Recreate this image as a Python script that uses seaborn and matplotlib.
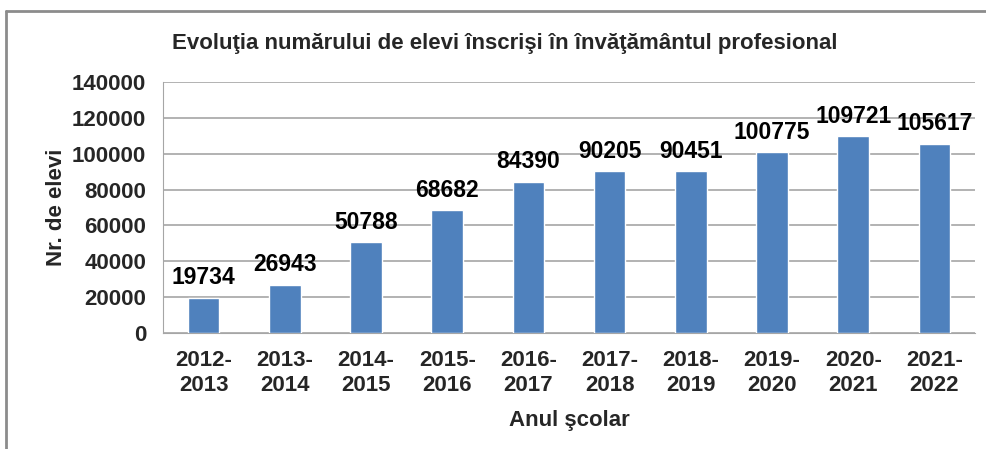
import matplotlib
matplotlib.use("Agg")
import matplotlib.pyplot as plt
import seaborn as sns
import pandas as pd
from matplotlib.lines import Line2D

# Data
years = ["2012-\n2013", "2013-\n2014", "2014-\n2015", "2015-\n2016", "2016-\n2017",
         "2017-\n2018", "2018-\n2019", "2019-\n2020", "2020-\n2021", "2021-\n2022"]
students = [19734, 26943, 50788, 68682, 84390, 90205, 90451, 100775, 109721, 105617]
yticks = [0, 20000, 40000, 60000, 80000, 100000, 120000, 140000]

df = pd.DataFrame({"An": years, "Elevi": students})

sns.set_style("white")
plt.rcParams["font.family"] = ["Liberation Sans", "DejaVu Sans"]
plt.rcParams["font.weight"] = "bold"

fig = plt.figure(figsize=(9.86, 4.49), dpi=100)
ax = fig.add_axes([163 / 986, 1 - 333 / 449, (975 - 163) / 986, (333 - 82) / 449])

sns.barplot(x="An", y="Elevi", data=df, color="#4F81BD", width=0.39,
            saturation=1, ax=ax, zorder=3)

for i, v in enumerate(students):
    ax.annotate(str(v), (i, v), xytext=(0, 6), textcoords="offset points",
                ha="center", va="bottom", fontsize=16.5, fontweight="bold",
                color="black", zorder=4)

ax.set_ylim(0, 140000)
ax.set_yticks(yticks)
ax.set_yticklabels([str(t) for t in yticks], fontsize=16, fontweight="bold")
ax.set_xticks(range(len(years)))
ax.set_xticklabels(years, fontsize=16, fontweight="bold", linespacing=1.3)
ax.set_xlim(-0.5, len(years) - 0.5)
ax.yaxis.grid(True, color="#A6A6A6", linewidth=1.2, zorder=0)
ax.tick_params(axis="x", length=0, pad=12)
ax.tick_params(axis="y", length=0, pad=12)

for s in ["top", "right"]:
    ax.spines[s].set_visible(False)
ax.spines["left"].set_color("#A6A6A6")
ax.spines["bottom"].set_color("#A6A6A6")

ax.set_xlabel("Anul şcolar", fontsize=16, fontweight="bold", labelpad=10)
ax.set_ylabel("Nr. de elevi", fontsize=16, fontweight="bold", labelpad=4)

fig.text(505 / 986, 1 - 44 / 449, "Evoluţia numărului de elevi înscrişi în învăţământul profesional",
         ha="center", va="center", fontsize=16, fontweight="bold")

# outer frame
fig.add_artist(Line2D([6 / 986, 6 / 986], [0, 1 - 11 / 449], color="#8C8C8C", linewidth=2))
fig.add_artist(Line2D([6 / 986, 1], [1 - 11 / 449, 1 - 11 / 449], color="#8C8C8C", linewidth=2))

fig.savefig("out.png", dpi=100)
